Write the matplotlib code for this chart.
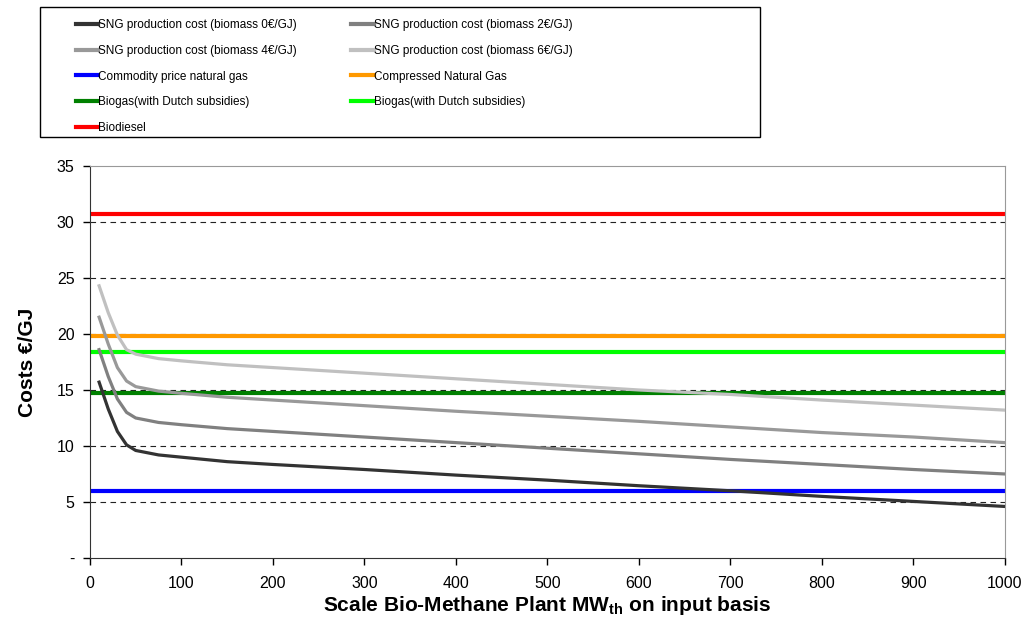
import numpy as np
import matplotlib
matplotlib.use('Agg')
import matplotlib.pyplot as plt
from matplotlib.patches import Rectangle

plt.rcParams['font.family'] = ['Liberation Sans', 'DejaVu Sans']
plt.rcParams['mathtext.fontset'] = 'custom'
plt.rcParams['mathtext.rm'] = 'Liberation Sans'
plt.rcParams['mathtext.bf'] = 'Liberation Sans:bold'

# plant scale (MW_th input) and SNG production cost curves
scale = [10, 20, 30, 40, 50, 75, 100, 150, 200, 300, 400, 500, 600, 700, 800, 900, 1000]
sng_0 = [15.7, 13.3, 11.3, 10.1, 9.6, 9.2, 9.0, 8.6, 8.35, 7.9, 7.4, 6.95, 6.45, 6.0, 5.5, 5.05, 4.6]
sng_2 = [18.6, 16.2, 14.2, 13.0, 12.5, 12.1, 11.9, 11.55, 11.3, 10.8, 10.3, 9.8, 9.3, 8.8, 8.35, 7.9, 7.5]
sng_4 = [21.5, 19.1, 17.0, 15.8, 15.3, 14.9, 14.7, 14.35, 14.1, 13.6, 13.1, 12.65, 12.2, 11.7, 11.2, 10.8, 10.3]
sng_6 = [24.3, 21.9, 19.9, 18.6, 18.2, 17.8, 17.6, 17.25, 17.0, 16.5, 16.0, 15.5, 15.0, 14.6, 14.1, 13.65, 13.2]

# reference prices (constant)
natural_gas = 6.0
cng = 19.8
biogas_dark = 14.7
biogas_light = 18.4
biodiesel = 30.7

fig = plt.figure(figsize=(10.28, 6.28), dpi=100, facecolor='white')
ax = fig.add_axes([0.0875, 0.1115, 0.89, 0.6242])

# gridlines
for y in [5, 10, 15, 20, 25, 30]:
    ax.axhline(y, color='#222222', lw=0.8, dashes=(5, 4), zorder=1)

h0, = ax.plot(scale, sng_0, color='#333333', lw=2.3, label='SNG production cost (biomass 0€/GJ)', zorder=3)
h2, = ax.plot(scale, sng_2, color='#808080', lw=2.3, label='SNG production cost (biomass 2€/GJ)', zorder=3)
h4, = ax.plot(scale, sng_4, color='#999999', lw=2.3, label='SNG production cost (biomass 4€/GJ)', zorder=3)
h6, = ax.plot(scale, sng_6, color='#c0c0c0', lw=2.3, label='SNG production cost (biomass 6€/GJ)', zorder=3)
hn = ax.axhline(natural_gas, color='#0000ff', lw=3, label='Commodity price natural gas', zorder=2)
hc = ax.axhline(cng, color='#ff9900', lw=3, label='Compressed Natural Gas', zorder=2)
hbd = ax.axhline(biogas_dark, color='#008000', lw=3, label='Biogas(with Dutch subsidies)', zorder=2)
hbl = ax.axhline(biogas_light, color='#00ff00', lw=3, label='Biogas(with Dutch subsidies)', zorder=2)
hbi = ax.axhline(biodiesel, color='#ff0000', lw=3, label='Biodiesel', zorder=2)

ax.set_xlim(0, 1000)
ax.set_ylim(0, 35)
ax.set_xticks(np.arange(0, 1001, 100))
ax.set_yticks(np.arange(0, 36, 5))
ax.set_yticklabels(['-'] + [str(v) for v in range(5, 36, 5)])
ax.tick_params(axis='both', direction='out', length=5, width=1, labelsize=11.5, colors='black')
ax.tick_params(axis='x', pad=8)
ax.tick_params(axis='y', pad=6)
ax.spines['left'].set_color('#333333')
ax.spines['bottom'].set_color('#333333')
ax.spines['top'].set_color('#999999')
ax.spines['right'].set_color('#999999')

ax.set_ylabel('Costs €/GJ', fontsize=15, fontweight='bold', labelpad=14)
ax.set_xlabel('Scale Bio-Methane Plant MW$_{\\mathbf{th}}$ on input basis', fontsize=15, fontweight='bold', labelpad=2)

# legend box
W, H = 1028, 628
fig.patches.append(Rectangle((40 / W, 1 - 137 / H), 720 / W, 130 / H, transform=fig.transFigure,
                             facecolor='white', edgecolor='black', lw=1, zorder=0))
handles = [h0, h4, hn, hbd, hbi, h2, h6, hc, hbl]
leg = fig.legend(handles=handles, labels=[h.get_label() for h in handles], ncol=2,
                 loc='upper left', bbox_to_anchor=(76 / W, 1 - 19 / H), frameon=False,
                 prop=dict(family='Liberation Sans', size=8.5), handlelength=1.9,
                 handletextpad=0.0, labelspacing=1.17, columnspacing=4.6,
                 borderpad=0, borderaxespad=0)
for ln in leg.get_lines():
    ln.set_linewidth(3)

fig.savefig('out.png', dpi=100, facecolor='white')
